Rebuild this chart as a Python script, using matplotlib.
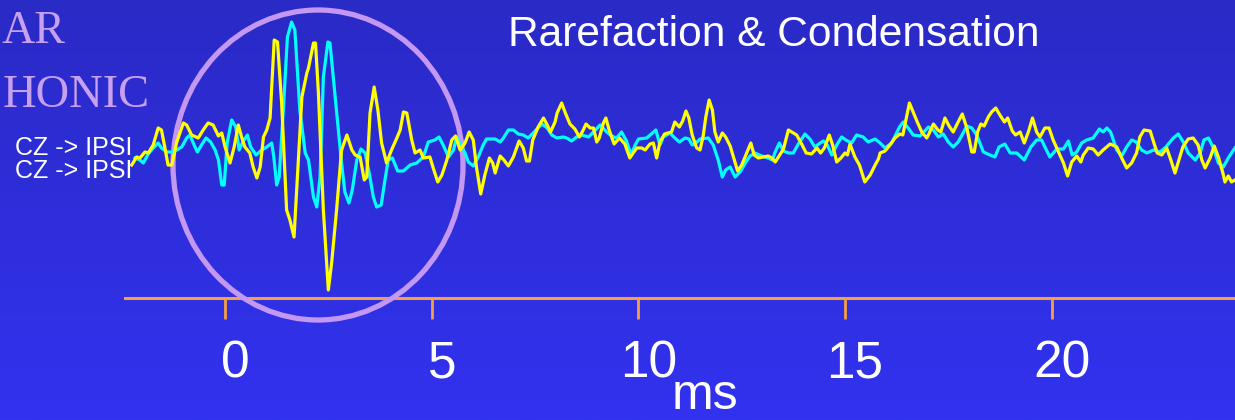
import numpy as np
import matplotlib
matplotlib.use("Agg")
import matplotlib.pyplot as plt
from matplotlib.patches import Ellipse
from matplotlib.transforms import ScaledTranslation

################################################################################
# traces: (time in ms, amplitude in uV)
yellow = [(-2.27,-0.15),(-2.15,-0.07),(-2.07,-0.08),(-1.95,-0.02),(-1.87,-0.03),(-1.75,0.05),(-1.63,0.22),(-1.55,0.20),
          (-1.47,0.03),(-1.39,-0.15),(-1.30,-0.15),(-1.18,0.08),(-1.02,0.27),(-0.94,0.25),(-0.82,0.15),(-0.66,0.12),
          (-0.54,0.20),(-0.42,0.27),(-0.30,0.25),(-0.17,0.14),(-0.09,0.17),(-0.01,0.03),(0.11,-0.13),(0.21,0.03),
          (0.31,0.25),(0.39,0.13),(0.47,0.03),(0.59,-0.03),(0.67,-0.17),(0.76,-0.28),(0.84,-0.17),(0.92,0.13),
          (1.00,0.20),(1.08,0.32),(1.18,1.10),(1.26,1.08),(1.36,0.47),(1.48,-0.60),(1.56,-0.70),(1.66,-0.87),
          (1.85,0.53),(1.97,0.77),(2.01,0.82),(2.13,1.07),(2.18,1.07),(2.25,0.57),(2.37,-0.60),(2.49,-1.40),
          (2.57,-1.13),(2.69,-0.60),(2.81,0.00),(2.94,0.15),(3.06,0.00),(3.14,-0.05),(3.26,-0.07),(3.36,-0.30),
          (3.42,-0.27),(3.50,0.37),(3.60,0.63),(3.69,0.40),(3.78,0.07),(3.90,-0.13),(4.02,0.00),(4.15,0.12),
          (4.23,0.20),(4.31,0.38),(4.39,0.37),(4.51,0.10),(4.59,-0.03),(4.71,0.00),(4.79,-0.08),(4.95,-0.07),
          (5.03,-0.18),(5.14,-0.32),(5.24,-0.25),(5.36,-0.10),(5.48,0.10),(5.57,0.14),(5.68,0.00),(5.80,0.07),
          (5.90,0.18),(6.00,0.10),(6.08,-0.18),(6.18,-0.44),(6.28,-0.25),(6.39,-0.08),(6.47,-0.13),(6.53,-0.23),
          (6.65,-0.06),(6.74,-0.10),(6.85,-0.16),(6.97,-0.07),(7.11,0.09),(7.21,0.02),(7.29,-0.11),(7.36,-0.11),
          (7.44,0.10),(7.57,0.23),(7.70,0.32),(7.79,0.25),(7.87,0.18),(7.98,0.28),(8.03,0.37),(8.14,0.47),
          (8.22,0.38),(8.34,0.26),(8.46,0.21),(8.57,0.13),(8.65,0.19),(8.73,0.26),(8.83,0.22),(8.91,0.22),
          (8.99,0.08),(9.05,0.12),(9.15,0.27),(9.21,0.32),(9.29,0.20),(9.41,0.06),(9.54,0.12),(9.67,0.06),
          (9.79,-0.08),(9.87,-0.03),(9.96,0.02),(10.08,0.02),(10.16,0.00),(10.28,0.06),(10.36,0.07),(10.44,-0.08),
          (10.52,0.08),(10.63,0.16),(10.72,0.17),(10.80,0.18),(10.88,0.28),(10.99,0.23),(11.07,0.29),(11.15,0.39),
          (11.22,0.32),(11.30,0.15),(11.41,0.02),(11.49,0.00),(11.57,0.15),(11.63,0.33),(11.71,0.50),(11.79,0.40),
          (11.85,0.18),(11.93,0.08),(12.03,0.17),(12.11,0.13),(12.22,0.04),(12.30,-0.07),(12.40,-0.21),(12.50,-0.15),
          (12.60,-0.05),(12.72,0.07),(12.80,-0.05),(12.90,-0.08),(13.02,-0.07),(13.14,-0.06),(13.23,-0.08),(13.31,-0.12),
          (13.39,-0.07),(13.51,0.01),(13.63,0.20),(13.75,0.17),(13.83,0.15),(13.95,0.06),(14.06,-0.03),(14.19,-0.04),
          (14.32,0.02),(14.41,-0.03),(14.50,0.02),(14.62,0.15),(14.70,0.05),(14.80,-0.12),(14.90,-0.08),(15.00,-0.03),
          (15.06,-0.05),(15.12,0.06),(15.24,-0.07),(15.35,-0.15),(15.48,-0.32),(15.61,-0.25),(15.73,-0.15),(15.81,-0.09),
          (15.85,-0.03),(15.97,-0.01),(16.09,0.05),(16.21,0.12),(16.33,0.16),(16.40,0.15),(16.45,0.25),(16.56,0.47),
          (16.65,0.38),(16.75,0.28),(16.86,0.18),(16.98,0.12),(17.02,0.15),(17.14,0.26),(17.25,0.20),(17.32,0.18),
          (17.42,0.32),(17.52,0.24),(17.62,0.18),(17.74,0.28),(17.84,0.36),(17.95,0.22),(18.07,-0.02),(18.13,-0.02),
          (18.21,0.18),(18.29,0.26),(18.37,0.24),(18.47,0.33),(18.55,0.38),(18.65,0.42),(18.75,0.35),(18.86,0.28),
          (18.94,0.32),(19.05,0.19),(19.13,0.15),(19.24,0.18),(19.34,0.07),(19.44,0.18),(19.54,0.32),(19.64,0.18),
          (19.72,0.13),(19.84,0.22),(19.94,0.22),(20.04,0.10),(20.17,-0.02),(20.29,-0.13),(20.39,-0.26),(20.49,-0.12),
          (20.61,-0.06),(20.71,-0.12),(20.77,-0.05),(20.89,0.02),(21.01,0.01),(21.13,-0.05),(21.25,0.00),(21.42,0.06),
          (21.58,0.03),(21.70,-0.08),(21.82,-0.18),(21.94,-0.13),(22.06,-0.03),(22.14,0.13),(22.24,0.20),(22.39,0.19),
          (22.48,0.07),(22.56,-0.03),(22.67,-0.05),(22.79,0.02),(22.89,-0.10),(22.99,-0.23),(23.07,-0.12),(23.18,0.03),
          (23.31,0.11),(23.43,0.12),(23.55,0.05),(23.64,-0.10),(23.72,-0.18),(23.84,-0.08),(23.94,0.04),(24.04,-0.07),
          (24.15,-0.23),(24.20,-0.32),(24.28,-0.26),(24.36,-0.32),(24.44,-0.30)]

cyan = [(-2.19,-0.08),(-2.07,-0.10),(-1.99,-0.13),(-1.87,-0.04),(-1.75,0.02),(-1.63,0.07),(-1.55,0.02),(-1.42,-0.02),
        (-1.30,-0.02),(-1.18,0.00),(-1.06,0.03),(-0.94,0.12),(-0.86,0.15),(-0.76,0.05),(-0.68,-0.02),(-0.58,0.05),
        (-0.47,0.12),(-0.36,0.08),(-0.25,0.00),(-0.17,-0.10),(-0.09,-0.35),(-0.03,-0.35),(0.04,0.07),(0.15,0.30),
        (0.25,0.23),(0.33,0.00),(0.42,0.08),(0.53,0.15),(0.61,0.03),(0.74,-0.05),(0.88,0.00),(1.00,0.03),
        (1.12,0.07),(1.17,-0.07),(1.24,-0.35),(1.30,-0.27),(1.40,0.40),(1.50,1.13),(1.60,1.28),(1.68,1.20),
        (1.80,0.40),(1.93,-0.03),(2.01,-0.10),(2.13,-0.47),(2.21,-0.57),(2.29,-0.27),(2.37,0.73),(2.48,1.08),
        (2.53,1.07),(2.61,0.73),(2.72,0.27),(2.81,-0.13),(2.89,-0.42),(2.99,-0.53),(3.07,-0.40),(3.18,-0.10),
        (3.28,0.01),(3.38,-0.03),(3.48,-0.23),(3.58,-0.47),(3.66,-0.57),(3.77,-0.55),(3.85,-0.33),(3.94,-0.10),
        (4.04,-0.08),(4.17,-0.21),(4.31,-0.21),(4.47,-0.15),(4.63,-0.13),(4.79,-0.07),(4.91,0.08),(5.07,0.10),
        (5.17,0.13),(5.27,0.05),(5.40,-0.07),(5.52,0.00),(5.60,0.13),(5.72,0.03),(5.80,-0.03),(5.88,-0.12),
        (6.00,-0.16),(6.12,-0.07),(6.24,0.05),(6.32,0.11),(6.53,0.11),(6.65,0.08),(6.73,0.12),(6.85,0.20),
        (6.97,0.20),(7.09,0.16),(7.21,0.15),(7.33,0.12),(7.45,0.17),(7.66,0.26),(7.79,0.22),(7.90,0.15),
        (8.02,0.12),(8.18,0.13),(8.26,0.12),(8.38,0.09),(8.50,0.13),(8.63,0.15),(8.79,0.13),(8.91,0.18),
        (9.07,0.25),(9.23,0.18),(9.35,0.14),(9.47,0.12),(9.59,0.18),(9.71,0.09),(9.82,-0.05),(9.92,0.05),
        (10.00,0.11),(10.20,0.12),(10.42,0.20),(10.52,0.05),(10.60,0.13),(10.76,0.17),(10.88,0.12),(10.99,0.08),
        (11.13,0.12),(11.22,0.11),(11.30,0.05),(11.37,0.06),(11.49,0.11),(11.69,0.12),(11.81,0.05),(11.93,-0.10),
        (12.03,-0.27),(12.11,-0.20),(12.22,-0.17),(12.34,-0.27),(12.46,-0.22),(12.60,-0.12),(12.70,-0.06),(12.82,-0.03),
        (12.98,-0.06),(13.14,-0.08),(13.24,-0.10),(13.31,-0.02),(13.41,0.07),(13.51,-0.01),(13.63,-0.03),(13.75,-0.03),
        (13.87,0.06),(14.03,0.16),(14.15,0.11),(14.27,0.03),(14.40,0.07),(14.48,0.09),(14.57,0.05),(14.68,-0.05),
        (14.80,0.05),(14.92,0.13),(15.02,0.10),(15.16,0.07),(15.28,0.15),(15.44,0.13),(15.56,0.08),(15.73,0.11),
        (15.85,0.07),(15.97,0.02),(16.13,0.07),(16.32,0.23),(16.41,0.28),(16.53,0.22),(16.65,0.15),(16.82,0.14),
        (17.02,0.23),(17.14,0.20),(17.26,0.13),(17.38,0.16),(17.50,0.08),(17.62,0.03),(17.74,0.08),(17.86,0.17),
        (17.95,0.24),(18.07,0.22),(18.19,0.15),(18.35,-0.02),(18.51,-0.05),(18.63,-0.07),(18.73,0.03),(18.87,0.06),
        (19.00,-0.03),(19.16,-0.03),(19.34,-0.10),(19.50,0.03),(19.64,0.10),(19.76,0.10),(19.84,0.03),(19.96,-0.07),
        (20.13,0.01),(20.29,0.01),(20.41,0.09),(20.50,-0.05),(20.61,-0.02),(20.73,0.07),(20.85,0.10),(21.01,0.12),
        (21.16,0.21),(21.25,0.18),(21.34,0.22),(21.43,0.18),(21.58,0.00),(21.70,-0.06),(21.82,0.03),(21.94,0.10),
        (22.05,0.08),(22.18,0.00),(22.31,-0.03),(22.47,0.00),(22.63,-0.02),(22.77,0.03),(22.95,0.12),(23.07,0.16),
        (23.19,0.08),(23.31,-0.03),(23.48,-0.10),(23.60,-0.03),(23.69,0.10),(23.80,0.12),(23.92,0.02),(24.04,-0.13),
        (24.16,-0.17),(24.28,-0.08),(24.44,0.02)]

xticks      = [0, 5, 10, 15, 20]
title       = "Rarefaction & Condensation"
xlabel      = "ms"
trace_names = ["CZ -> IPSI", "CZ -> IPSI"]
side_text   = ["AR", "HONIC"]

################################################################################
W, H = 1235, 420
fig = plt.figure(figsize=(W/100, H/100), dpi=100)

# slide background gradient
bg = fig.add_axes([0, 0, 1, 1], zorder=-5)
grad = np.linspace(0, 1, 256).reshape(-1, 1)
top = np.array([42, 42, 198]) / 255.
bot = np.array([50, 50, 240]) / 255.
img = top[None, None, :] * (1 - grad[:, :, None]) + bot[None, None, :] * grad[:, :, None]
bg.imshow(img, aspect="auto", extent=[0, 1, 0, 1])
bg.axis("off")

################################################################################
orange = "#F5A043"
ax = fig.add_axes([125/W, 1 - 298/H, 1 - 125/W, 298/H])
ax.patch.set_alpha(0)
ty, vy = np.array(yellow).T
tc, vc = np.array(cyan).T
ax.plot(tc, vc, color="#00FFFF", lw=2.3, zorder=3, solid_joinstyle="round")
ax.plot(ty, vy, color="#FFFF00", lw=2.3, zorder=3.1, solid_joinstyle="round")
ax.set_xlim(-2.433, 24.443)
ax.set_ylim(-1.48, 1.50)

for s in ["top", "left", "right"]:
    ax.spines[s].set_visible(False)
ax.spines["bottom"].set_color(orange)
ax.spines["bottom"].set_linewidth(2.2)
ax.set_yticks([])
ax.set_xticks(xticks)
ax.set_xticklabels([str(t) for t in xticks], fontsize=37, color="white",
                   fontfamily="Liberation Sans")
ax.tick_params(axis="x", direction="out", length=15, width=2, color=orange, pad=15)
off = ScaledTranslation(0.10, 0, fig.dpi_scale_trans)
for lab in ax.get_xticklabels():
    lab.set_transform(lab.get_transform() + off)

# circle around the wave I-V region
circ = Ellipse((318/W, 1 - 165/H), 290/W, 310/H, transform=fig.transFigure,
               fill=False, ec="#C497F2", lw=3.8, zorder=2.7, clip_on=False)
ax.add_patch(circ)

################################################################################
# texts
fig.text(705/W, 1 - 409/H, xlabel, ha="center", va="baseline", fontsize=36,
         color="white", family="Liberation Sans")
fig.text(508/W, 1 - 46/H, title, ha="left", va="baseline", fontsize=30.6,
         color="white", family="Liberation Sans")
fig.text(15/W, 1 - 155/H, trace_names[0], ha="left", va="baseline", fontsize=18,
         color="white", family="Liberation Sans")
fig.text(15/W, 1 - 178/H, trace_names[1], ha="left", va="baseline", fontsize=18,
         color="white", family="Liberation Sans")
fig.text(65/W, 1 - 43/H, side_text[0], ha="right", va="baseline", fontsize=33,
         color="#C8A0F0", family="Liberation Serif")
fig.text(150/W, 1 - 107/H, side_text[1], ha="right", va="baseline", fontsize=33.5,
         color="#C8A0F0", family="Liberation Serif")

fig.savefig("out.png", dpi=100)
